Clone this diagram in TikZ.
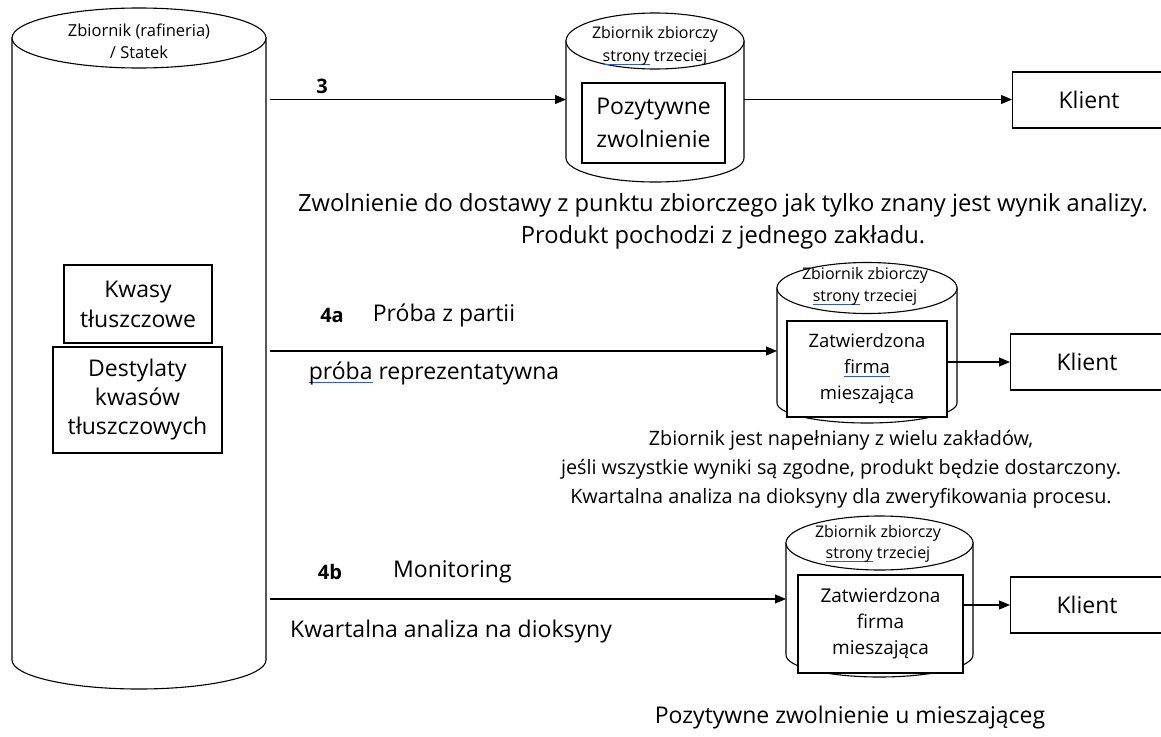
\documentclass[tikz,border=0pt]{standalone}
\usepackage{fontspec}
\setmainfont{Open Sans}
\usetikzlibrary{arrows.meta, positioning}

\definecolor{squigblue}{RGB}{50,90,190}
\newsavebox\squigbox
% word with the blue spell-check line under it
\newcommand\squig[1]{\sbox\squigbox{#1}\rlap{\color{squigblue}\rule[-3.5pt]{\wd\squigbox}{1pt}}\usebox\squigbox}
% outline of a can round an empty node: #1 node, #2 half width, #3 top ry, #4 bottom ry
\newcommand\drawcan[4]{%
  \draw[fill=white] (#1.south west) arc[start angle=180, end angle=360, x radius=#2, y radius=#4]
    -- (#1.north east) -- (#1.north west) -- cycle;
  \draw[fill=white] (#1.north) ellipse[x radius=#2, y radius=#3];
}

\begin{document}
\begin{tikzpicture}[
      x=1pt, y=1pt,
      line width=1.1pt,
      arr/.style={-{Triangle[length=11pt, width=9pt]}},
      canbody/.style={inner sep=0pt, outer sep=0pt},
      box/.style={draw, fill=white, inner sep=0pt, align=center},
      klient/.style={draw, inner sep=0pt, minimum width=153, minimum height=56, anchor=west,
                     font=\fontsize{23}{27}\selectfont},
      lbl/.style={font=\fontsize{23}{27}\selectfont, inner sep=1pt},
      num/.style={font=\bfseries\fontsize{20}{24}\selectfont, inner sep=1pt},
      cantext/.style={font=\fontsize{16}{22}\selectfont, align=center, inner sep=0pt},
      note/.style={align=center, inner sep=0pt}
    ]
    \useasboundingbox (0,0) rectangle (1161,-736);

    % big tank on the left
    \node[canbody, minimum width=254, minimum height=622] (tank) at (139,-349) {};
    \drawcan{tank}{127}{30}{29}
    \node[cantext, font=\fontsize{16.5}{22}\selectfont] (tanklab) at (139,-41) {Zbiornik (rafineria)\\/ Statek};
    \node[box, minimum width=148, minimum height=78, font=\fontsize{23}{30}\selectfont] (fatty) at (138,-304) {Kwasy\\tłuszczowe};
    \node[box, minimum width=169, minimum height=106, font=\fontsize{23}{29}\selectfont] (distil) at (137.5,-400) {Destylaty\\kwasów\\tłuszczowych};

    % route 3
    \node[canbody, minimum width=178, minimum height=117] (can1) at (655,-99.5) {};
    \drawcan{can1}{89}{28}{24}
    \node[cantext, font=\fontsize{16}{23}\selectfont] (can1lab) at (655,-46) {Zbiornik zbiorczy\\\squig{strony} trzeciej};
    \node[box, minimum width=143, minimum height=80, font=\fontsize{23}{33}\selectfont] (rel1) at (653.5,-123) {Pozytywne\\zwolnienie};
    \node[klient] (klient1) at (1012,-100) {Klient};
    \node[num] (n3) at (322,-86) {3};
    \node[note, font=\fontsize{23.7}{32}\selectfont] (note1) at (723,-221)
      {Zwolnienie do dostawy z punktu zbiorczego jak tylko znany jest wynik analizy.\\Produkt pochodzi z jednego zakładu.};

    % route 4a
    \node[canbody, minimum width=180, minimum height=115] (can2) at (867,-345.5) {};
    \drawcan{can2}{90}{25.5}{20}
    \node[cantext] (can2lab) at (865,-286) {Zbiornik zbiorczy\\\squig{strony} trzeciej};
    \node[box, minimum width=160, minimum height=96, font=\fontsize{18.5}{26}\selectfont] (mix1) at (867,-369) {Zatwierdzona\\\squig{firma}\\mieszająca};
    \node[klient] (klient2) at (1010,-362) {Klient};
    \node[num] (n4a) at (332,-315) {4a};
    \node[lbl, right=26pt of n4a] (probe) {Próba z partii};
    \node[lbl] (repr) at (434,-373) {\squig{próba} reprezentatywna};
    \node[note, font=\fontsize{19.8}{29}\selectfont] (note2) at (841,-469)
      {Zbiornik jest napełniany z wielu zakładów,\\jeśli wszystkie wyniki są zgodne, produkt będzie dostarczony.\\Kwartalna analiza na dioksyny dla zweryfikowania procesu.};

    % route 4b
    \node[canbody, minimum width=187, minimum height=112] (can3) at (879.5,-599) {};
    \drawcan{can3}{93.5}{27}{22}
    \node[cantext, font=\fontsize{16}{21}\selectfont] (can3lab) at (878,-544) {Zbiornik zbiorczy\\\squig{strony} trzeciej};
    \node[box, minimum width=165, minimum height=98, font=\fontsize{19}{26}\selectfont] (mix2) at (880.5,-624) {Zatwierdzona\\firma\\mieszająca};
    \node[klient] (klient3) at (1010,-605) {Klient};
    \node[num] (n4b) at (330,-572) {4b};
    \node[lbl, right=48pt of n4b] (monit) {Monitoring};
    \node[lbl] (kwart) at (451,-632) {Kwartalna analiza na dioksyny};
    \node[lbl] (note3) at (850,-718) {Pozytywne zwolnienie u mieszająceg};

    % connectors
    \coordinate (in4a) at ([yshift=-5.5pt]can2.west);
    \draw[arr, shorten <=4pt] (tank.east |- can1.west) -- (can1.west);
    \draw[arr] (can1.east) -- (can1.east -| klient1.west);
    \draw[arr, shorten <=4pt] (tank.east |- in4a) -- (in4a);
    \draw[arr] (mix1.east |- klient2.west) -- (klient2.west);
    \draw[arr, shorten <=4pt] (tank.east |- can3.west) -- (can3.west);
    \draw[arr] (mix2.east |- klient3.west) -- (klient3.west);
\end{tikzpicture}
\end{document}
